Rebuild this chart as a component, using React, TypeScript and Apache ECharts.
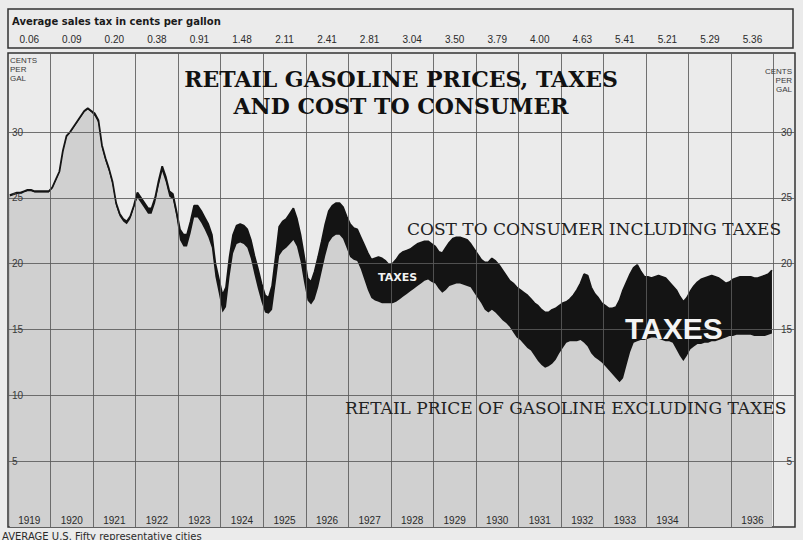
import React, { useEffect, useRef } from "react";
import * as echarts from "echarts";

// Year columns (1935 label is missing in the original print)
const yearLabels = [
  "1919", "1920", "1921", "1922", "1923", "1924", "1925", "1926", "1927",
  "1928", "1929", "1930", "1931", "1932", "1933", "1934", "", "1936",
];

// Average sales tax in cents per gallon, one per year
const taxLabels = [
  "0.06", "0.09", "0.20", "0.38", "0.91", "1.48", "2.11", "2.41", "2.81",
  "3.04", "3.50", "3.79", "4.00", "4.63", "5.41", "5.21", "5.29", "5.36",
];

const yGridValues = [5, 10, 15, 20, 25, 30];
// right-hand scale: the 10 is covered by the retail-price caption in the original
const yRightLabels = [5, 15, 20, 25, 30];

// Monthly cost to consumer including taxes (cents per gallon), Jan 1919 .. Dec 1936
const costIncludingTaxes = [
  25.2, 25.3, 25.4, 25.4, 25.5, 25.6, 25.6, 25.5, 25.5, 25.5, 25.5, 25.5,
  25.8, 26.4, 27.0, 28.6, 29.7, 30.0, 30.4, 30.8, 31.2, 31.6, 31.8, 31.6,
  31.4, 30.9, 29.0, 28.0, 27.2, 26.2, 24.6, 23.8, 23.4, 23.2, 23.6, 24.4,
  25.4, 25.0, 24.6, 24.2, 24.2, 25.0, 26.3, 27.4, 26.6, 25.5, 25.3, 24.0,
  22.6, 22.2, 22.2, 23.2, 24.4, 24.4, 24.0, 23.5, 23.0, 22.2, 20.0, 18.8,
  17.6, 18.2, 20.5, 22.2, 22.9, 23.0, 22.9, 22.6, 21.8, 20.6, 19.6, 18.5,
  17.6, 17.4, 18.3, 20.5, 22.8, 23.2, 23.4, 23.8, 24.2, 23.4, 22.2, 20.6,
  18.9, 18.6, 19.4, 20.5, 21.7, 23.0, 24.0, 24.4, 24.6, 24.6, 24.3, 23.6,
  23.0, 22.7, 22.6, 22.0, 21.4, 20.8, 20.3, 20.4, 20.5, 20.4, 20.2, 19.9,
  20.0, 20.3, 20.7, 20.9, 21.0, 21.1, 21.3, 21.5, 21.6, 21.7, 21.7, 21.5,
  21.3, 20.9, 20.8, 21.2, 21.6, 21.9, 22.0, 22.0, 21.9, 21.8, 21.5, 21.1,
  20.7, 20.3, 20.1, 20.1, 20.4, 20.2, 19.9, 19.5, 19.1, 18.7, 18.5, 18.2,
  18.0, 17.8, 17.6, 17.3, 17.0, 16.8, 16.5, 16.3, 16.3, 16.5, 16.6, 16.8,
  17.0, 17.1, 17.3, 17.6, 18.0, 18.5, 19.2, 19.1, 18.2, 17.7, 17.4, 17.0,
  16.8, 16.6, 16.6, 16.7, 17.2, 18.0, 18.6, 19.2, 19.7, 19.9, 19.4, 19.0,
  19.0, 18.9, 19.0, 19.1, 19.0, 18.9, 18.6, 18.3, 18.0, 17.5, 17.1, 17.4,
  17.9, 18.3, 18.6, 18.8, 18.9, 19.0, 19.1, 19.0, 18.9, 18.7, 18.5, 18.6,
  18.8, 18.9, 19.0, 19.0, 19.0, 19.0, 18.9, 18.9, 19.0, 19.1, 19.2, 19.5,
];

// Monthly retail price of gasoline excluding taxes (cents per gallon)
const retailExcludingTaxes = [
  25.1, 25.2, 25.3, 25.3, 25.4, 25.5, 25.5, 25.4, 25.4, 25.4, 25.4, 25.4,
  25.7, 26.3, 26.9, 28.5, 29.6, 29.9, 30.3, 30.7, 31.1, 31.5, 31.7, 31.5,
  31.2, 30.7, 28.8, 27.8, 27.0, 26.0, 24.4, 23.6, 23.2, 23.0, 23.4, 24.2,
  25.0, 24.6, 24.2, 23.8, 23.8, 24.6, 25.9, 27.0, 26.2, 25.1, 24.9, 23.6,
  21.8, 21.3, 21.3, 22.3, 23.5, 23.5, 23.1, 22.6, 22.0, 21.2, 19.0, 17.7,
  16.3, 16.7, 19.0, 20.8, 21.5, 21.6, 21.5, 21.2, 20.4, 19.2, 18.1, 17.1,
  16.3, 16.2, 16.5, 18.5, 20.6, 21.0, 21.2, 21.5, 21.8, 21.3, 20.2, 18.6,
  17.2, 16.9, 17.3, 18.2, 19.4, 20.6, 21.6, 22.0, 22.2, 22.2, 21.9, 21.2,
  20.5, 20.3, 20.2, 19.6, 18.8, 18.0, 17.4, 17.2, 17.1, 17.0, 17.0, 17.0,
  17.0, 17.1, 17.3, 17.5, 17.7, 17.9, 18.1, 18.3, 18.5, 18.7, 18.8, 18.6,
  18.5, 18.1, 17.8, 18.0, 18.3, 18.4, 18.5, 18.5, 18.4, 18.3, 18.2, 17.8,
  17.4, 17.0, 16.5, 16.3, 16.5, 16.3, 16.0, 15.7, 15.5, 15.2, 14.8, 14.4,
  14.2, 13.9, 13.6, 13.4, 13.0, 12.6, 12.3, 12.1, 12.2, 12.4, 12.7, 13.2,
  13.6, 14.0, 14.1, 14.1, 14.1, 14.2, 14.0, 13.7, 13.2, 12.9, 12.7, 12.5,
  12.2, 11.9, 11.6, 11.3, 11.0, 11.3, 12.3, 13.3, 14.0, 14.1, 14.2, 14.2,
  14.3, 14.4, 14.4, 14.3, 14.2, 14.1, 14.1, 14.0, 13.5, 13.0, 12.6, 13.0,
  13.5, 13.7, 13.9, 13.9, 14.0, 14.0, 14.1, 14.1, 14.2, 14.3, 14.4, 14.5,
  14.5, 14.6, 14.6, 14.6, 14.6, 14.6, 14.5, 14.5, 14.5, 14.5, 14.6, 14.7,
];

const PAPER = "#ebebeb";
const FILL = "#d0d0d0";
const INK = "#141414";
const GRID = "#5a5a5a";

export default function App() {
  const ref = useRef<HTMLDivElement>(null);

  useEffect(() => {
    if (!ref.current) return;
    const chart = echarts.init(ref.current, null, { renderer: "svg" });

    const toPairs = (arr: number[]) => arr.map((v, i) => [i + 0.5, v]);
    const xMax = 222; // 18 years of months plus the right label strip
    const yearBoundaries = yearLabels.map((_, i) => (i + 1) * 12);

    const centerLabel = (list: string[]) => (v: number) => {
      if ((v - 6) % 12 !== 0) return "";
      const k = (v - 6) / 12;
      return list[k] ?? "";
    };
    const labelFrom = (list: number[]) => (v: number) =>
      list.indexOf(v) >= 0 ? String(v) : "";

    const txt = (
      text: string,
      x: number,
      y: number,
      size: number,
      opts: Record<string, any> = {}
    ) => ({
      type: "text",
      x,
      y,
      z: 100,
      silent: true,
      style: {
        text,
        fill: opts.fill ?? "#1a1a1a",
        fontSize: size,
        fontFamily: opts.family ?? "Liberation Sans",
        fontWeight: opts.weight ?? "normal",
        align: opts.align ?? "left",
        verticalAlign: "middle",
      },
    });

    const option: any = {
      animation: false,
      backgroundColor: PAPER,
      grid: {
        left: 8,
        right: 8,
        top: 53,
        bottom: 13,
        show: true,
        backgroundColor: PAPER,
        borderColor: "#333",
        borderWidth: 1.5,
      },
      xAxis: [
        {
          type: "value",
          min: 0,
          max: xMax,
          interval: 12,
          axisLine: { show: false },
          axisTick: { show: false },
          axisLabel: { show: false },
          splitLine: { show: false },
        },
        {
          type: "value",
          min: 0,
          max: xMax,
          interval: 6,
          position: "bottom",
          z: 10,
          axisLine: { show: false },
          axisTick: { show: false },
          splitLine: { show: false },
          axisLabel: {
            inside: true,
            margin: 2,
            fontSize: 10,
            fontFamily: "Liberation Sans",
            color: "#2a2a2a",
            formatter: centerLabel(yearLabels),
          },
        },
        {
          type: "value",
          min: 0,
          max: xMax,
          interval: 6,
          position: "top",
          z: 10,
          axisLine: { show: false },
          axisTick: { show: false },
          splitLine: { show: false },
          axisLabel: {
            margin: 9,
            fontSize: 10,
            fontFamily: "Liberation Sans",
            color: "#2a2a2a",
            formatter: centerLabel(taxLabels),
          },
        },
      ],
      yAxis: [
        {
          type: "value",
          min: 0,
          max: 36,
          interval: 5,
          position: "left",
          z: 10,
          axisLine: { show: false },
          axisTick: { show: false },
          splitLine: { show: false },
          axisLabel: {
            inside: true,
            margin: 4,
            fontSize: 10,
            fontFamily: "Liberation Sans",
            color: "#3a3a3a",
            formatter: labelFrom(yGridValues),
          },
        },
        {
          type: "value",
          min: 0,
          max: 36,
          interval: 5,
          position: "right",
          z: 10,
          axisLine: { show: false },
          axisTick: { show: false },
          splitLine: { show: false },
          axisLabel: {
            inside: true,
            margin: 3,
            fontSize: 10,
            fontFamily: "Liberation Sans",
            color: "#3a3a3a",
            formatter: labelFrom(yRightLabels),
          },
        },
      ],
      series: [
        {
          name: "Cost to consumer including taxes",
          type: "line",
          xAxisIndex: 0,
          yAxisIndex: 0,
          data: toPairs(costIncludingTaxes),
          symbol: "none",
          z: 1,
          lineStyle: { width: 0 },
          areaStyle: { color: INK, opacity: 1 },
        },
        {
          name: "Retail price excluding taxes",
          type: "line",
          xAxisIndex: 0,
          yAxisIndex: 0,
          data: toPairs(retailExcludingTaxes),
          symbol: "none",
          z: 2,
          lineStyle: { width: 0 },
          areaStyle: { color: FILL, opacity: 1 },
        },
        {
          name: "Cost line",
          type: "line",
          xAxisIndex: 0,
          yAxisIndex: 0,
          data: toPairs(costIncludingTaxes),
          symbol: "none",
          z: 3,
          lineStyle: { color: INK, width: 1.8 },
          markLine: {
            silent: true,
            symbol: "none",
            label: { show: false },
            lineStyle: { color: GRID, width: 1, type: "solid", opacity: 0.85 },
            data: [
              ...yGridValues.map((v) => ({ yAxis: v })),
              ...yearBoundaries.map((v) => ({ xAxis: v })),
            ],
          },
        },
      ],
      graphic: [
        {
          type: "rect",
          z: 100,
          silent: true,
          shape: { x: 8, y: 9, width: 785, height: 39 },
          style: { fill: "none", stroke: "#333", lineWidth: 1.5 },
        },
        txt("Average sales tax in cents per gallon", 12, 21, 10, {
          weight: "bold",
          family: "DejaVu Sans",
        }),
        txt("RETAIL GASOLINE PRICES, TAXES", 401, 79, 22, {
          family: "DejaVu Serif",
          weight: "bold",
          align: "center",
          fill: "#111",
        }),
        txt("AND COST TO CONSUMER", 401, 106, 22, {
          family: "DejaVu Serif",
          weight: "bold",
          align: "center",
          fill: "#111",
        }),
        txt("COST TO CONSUMER INCLUDING TAXES", 407, 229, 17, {
          family: "DejaVu Serif",
          fill: "#222",
        }),
        txt("RETAIL PRICE OF GASOLINE EXCLUDING TAXES", 345, 408, 17, {
          family: "DejaVu Serif",
          fill: "#222",
        }),
        txt("TAXES", 378, 277, 11, { weight: "bold", fill: "#f2f2f2", family: "DejaVu Sans" }),
        txt("TAXES", 625, 328, 30, { weight: "bold", fill: "#f4f4f4" }),
        txt("CENTS", 10, 60, 8, { fill: "#3a3a3a" }),
        txt("PER", 10, 69, 8, { fill: "#3a3a3a" }),
        txt("GAL", 10, 78, 8, { fill: "#3a3a3a" }),
        txt("CENTS", 792, 71, 8, { fill: "#3a3a3a", align: "right" }),
        txt("PER", 792, 80, 8, { fill: "#3a3a3a", align: "right" }),
        txt("GAL", 792, 89, 8, { fill: "#3a3a3a", align: "right" }),
        txt("AVERAGE U.S. Fifty representative cities", 2, 536, 10, {
          fill: "#2a2a2a",
          family: "DejaVu Sans",
        }),
      ],
    };

    chart.setOption(option);
    return () => chart.dispose();
  }, []);

  return (
    <div
      ref={ref}
      style={{
        position: "fixed",
        left: 0,
        top: 0,
        width: 803,
        height: 540,
        background: PAPER,
      }}
    />
  );
}
